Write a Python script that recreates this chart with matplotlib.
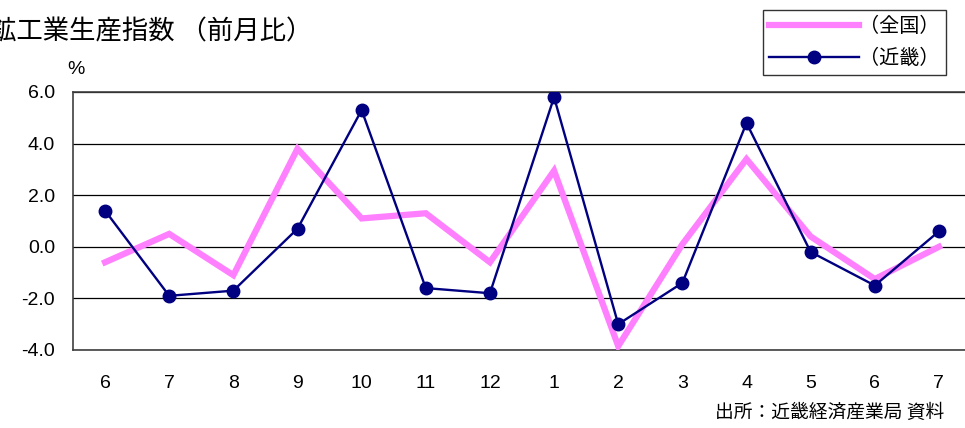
import numpy as np
import matplotlib.pyplot as plt
from matplotlib.lines import Line2D

plt.rcParams['font.family'] = ['Liberation Sans', 'Noto Sans CJK JP', 'DejaVu Sans']

# -------------------------------
# data
# -------------------------------
months = ['6', '7', '8', '9', '10', '11', '12', '1', '2', '3', '4', '5', '6', '7']
zenkoku = [-0.6, 0.5, -1.1, 3.8, 1.1, 1.3, -0.6, 2.95, -3.85, 0.1, 3.4, 0.4, -1.25, 0.0]
kinki = [1.4, -1.9, -1.7, 0.7, 5.3, -1.6, -1.8, 5.8, -3.0, -1.4, 4.8, -0.2, -1.5, 0.6]
yticks = [6.0, 4.0, 2.0, 0.0, -2.0, -4.0]

W, H = 965, 428
fig = plt.figure(figsize=(W / 100, H / 100), dpi=100)
ax = fig.add_axes([73 / W, (H - 350) / H, (971 - 73) / W, (350 - 92) / H])

x = np.arange(len(months))
ax.plot(x, zenkoku, color='#ff80ff', lw=4.5, zorder=3, solid_joinstyle='miter')
ax.plot(x, kinki, color='#000080', lw=1.7, marker='o', markersize=9, zorder=4)

ax.set_xlim(-0.5, len(months) - 0.5)
ax.set_ylim(-4, 6)
ax.set_yticks(yticks)
ax.set_yticklabels([f'{v:.1f}' for v in yticks], fontsize=14)
ax.set_xticks(x)
ax.set_xticklabels(months, fontsize=14)
ax.tick_params(length=0)
ax.tick_params(axis='y', pad=13)
ax.tick_params(axis='x', pad=18)
for v in yticks:
    ax.axhline(v, color='black', lw=0.9, zorder=1)
ax.spines['right'].set_visible(False)
for s in ['left', 'bottom', 'top']:
    ax.spines[s].set_color('#404040')
    ax.spines[s].set_linewidth(1.2)

# title, unit, source
fig.text(-10 / W, 1 - 32 / H, '鉱工業生産指数 （前月比）', fontsize=19,
         family=['Noto Sans CJK JP'], va='center', ha='left')
fig.text(76 / W, 1 - 70 / H, '%', fontsize=14, va='center', ha='center')
fig.text(944 / W, 1 - 412 / H, '出所：近畿経済産業局 資料', fontsize=13.5,
         family=['Noto Sans CJK JP'], va='center', ha='right')

# legend
handles = [Line2D([], [], color='#ff80ff', lw=4.5),
           Line2D([], [], color='#000080', lw=1.7, marker='o', markersize=9)]
leg = fig.legend(handles, ['（全国）', '（近畿）'], loc='upper right',
                 bbox_to_anchor=(946 / W, 1 - 10 / H), frameon=True, fancybox=False,
                 prop={'family': ['Noto Sans CJK JP'], 'size': 14.5},
                 handlelength=4.5, handletextpad=0.0, borderpad=0.3,
                 labelspacing=0.55, borderaxespad=0)
leg.get_frame().set_edgecolor('black')
leg.get_frame().set_linewidth(1.0)

fig.savefig('out.png', dpi=100)
